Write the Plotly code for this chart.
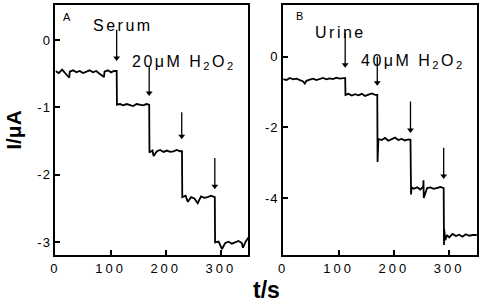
import plotly.graph_objects as go

# ---------------- data ----------------
tA = [0, 6, 12, 18, 25, 26, 32, 38, 44, 50, 56, 62, 68, 74, 80, 88, 89, 95, 101, 106, 111,
      111.5, 117, 123, 129, 135, 141, 147, 153, 159, 165, 170,
      170.5, 176, 178, 184, 190, 196, 202, 208, 214, 220, 226, 229.5,
      230, 236, 240, 246, 252, 258, 264, 270, 276, 282, 289,
      289.5, 296, 302, 308, 314, 320, 326, 332, 338, 340, 345, 350]
IA = [-0.46, -0.49, -0.44, -0.50, -0.56, -0.47, -0.45, -0.48, -0.46, -0.49, -0.47, -0.45, -0.48, -0.46, -0.50, -0.55, -0.47, -0.45, -0.48, -0.46, -0.46,
      -0.96, -0.95, -0.97, -0.95, -0.96, -0.98, -0.95, -0.96, -0.97, -0.95, -0.96,
      -1.67, -1.64, -1.72, -1.65, -1.63, -1.66, -1.64, -1.66, -1.65, -1.63, -1.65, -1.65,
      -2.33, -2.31, -2.40, -2.33, -2.35, -2.42, -2.32, -2.34, -2.33, -2.31, -2.33,
      -3.00, -2.99, -3.10, -3.01, -2.99, -3.02, -3.00, -2.98, -3.01, -3.08, -2.99, -2.93]

tB = [0, 6, 12, 18, 24, 30, 36, 39, 42, 48, 54, 60, 66, 72, 78, 84, 90, 96, 102, 108, 112,
      112.5, 118, 124, 130, 136, 142, 148, 154, 160, 166, 170,
      170.5, 171, 172, 178, 184, 190, 196, 202, 208, 214, 220, 226, 230,
      230.5, 231, 232, 236, 242, 248, 253, 253.5, 254, 260, 266, 272, 278, 284, 290,
      290.5, 291, 293, 296, 300, 306, 312, 318, 324, 330, 336, 342, 350]
IB = [-0.63, -0.66, -0.60, -0.64, -0.62, -0.67, -0.70, -0.76, -0.68, -0.65, -0.62, -0.66, -0.63, -0.60, -0.64, -0.61, -0.63, -0.59, -0.62, -0.60, -0.60,
      -1.08, -1.05, -1.10, -1.06, -1.09, -1.05, -1.11, -1.07, -1.04, -1.08, -1.08,
      -2.98, -2.40, -2.33, -2.36, -2.30, -2.38, -2.34, -2.29, -2.36, -2.33, -2.37, -2.34, -2.35,
      -3.30, -3.90, -3.70, -3.74, -3.70, -3.76, -3.68, -3.50, -4.00, -3.72, -3.70, -3.74, -3.71, -3.69, -3.72,
      -5.33, -4.90, -5.20, -5.05, -5.12, -5.02, -5.08, -5.04, -5.10, -5.03, -5.07, -5.05, -5.05]

arrowsA_t = [111, 170, 229, 289]
arrowsA_top = [0.15, -0.40, -1.07, -1.75]
arrowsA_tip = [-0.37, -0.89, -1.53, -2.27]
arrowsB_t = [112, 170, 230, 290]
arrowsB_top = [0.68, 0.00, -1.27, -2.58]
arrowsB_tip = [-0.42, -0.93, -2.27, -3.57]

xticks = [0, 100, 200, 300]
yticksA = [0, -1, -2, -3]
yticksB = [0, -2, -4]


def spaced(s, px):
    return '<span style="letter-spacing:%spx">%s</span>' % (px, s)


# ---------------- figure ----------------
fig = go.Figure()
line = dict(color="black", width=1.8)
fig.add_trace(go.Scatter(x=tA, y=IA, mode="lines", line=line, xaxis="x", yaxis="y", showlegend=False))
fig.add_trace(go.Scatter(x=tB, y=IB, mode="lines", line=line, xaxis="x2", yaxis="y2", showlegend=False))


def add_arrows(ts, tops, tips, xa, ya, yspan):
    for t, a, b in zip(ts, tops, tips):
        head = 0.055 * yspan  # head length in data units
        fig.add_trace(go.Scatter(x=[t, t], y=[a, b + head * 0.5], mode="lines",
                                 line=dict(color="black", width=1.3),
                                 xaxis=xa, yaxis=ya, showlegend=False, hoverinfo="skip"))
        fig.add_trace(go.Scatter(x=[t], y=[b + head * 0.5], mode="markers",
                                 marker=dict(symbol="triangle-down", size=6, color="black"),
                                 xaxis=xa, yaxis=ya, showlegend=False, hoverinfo="skip"))


add_arrows(arrowsA_t, arrowsA_top, arrowsA_tip, "x", "y", 3.71)
add_arrows(arrowsB_t, arrowsB_top, arrowsB_tip, "x2", "y2", 7.09)

ax_common = dict(showline=True, mirror=True, linecolor="black", linewidth=2,
                 ticks="inside", ticklen=5, tickwidth=2, tickcolor="black",
                 showgrid=False, zeroline=False,
                 tickfont=dict(family="Liberation Sans", size=13, color="black"))
ydom = [0.169, 0.984]
fig.update_layout(
    width=488, height=307, margin=dict(l=0, r=0, t=0, b=0),
    paper_bgcolor="white", plot_bgcolor="white",
    xaxis=dict(domain=[0.1045, 0.504], range=[0, 350], tickvals=xticks,
               ticktext=[spaced(v, 3) for v in xticks], anchor="y", **ax_common),
    yaxis=dict(domain=ydom, range=[-3.19, 0.52], tickvals=yticksA,
               ticktext=[spaced(v, 1) for v in yticksA], anchor="x",
               title=dict(text="<b>I/μA</b>", font=dict(family="Liberation Sans", size=21, color="black"), standoff=10),
               **ax_common),
    xaxis2=dict(domain=[0.576, 0.977], range=[0, 350], tickvals=xticks,
                ticktext=[spaced(v, 3) for v in xticks], anchor="y2", **ax_common),
    yaxis2=dict(domain=ydom, range=[-5.62, 1.47], tickvals=yticksB,
                ticktext=[spaced(v, 1) for v in yticksB], anchor="x2", **ax_common),
)

tf = dict(family="Liberation Sans", size=16, color="black")
ann = [
    dict(x=21.5, y=0.34, xref="x", yref="y", text="A", showarrow=False, font=dict(family="Liberation Sans", size=11, color="black")),
    dict(x=122, y=0.22, xref="x", yref="y", text=spaced("Serum", 2.5), showarrow=False, font=tf),
    dict(x=233, y=-0.33, xref="x", yref="y", text=spaced("20μM H<sub>2</sub>O<sub>2</sub>", 2.5), showarrow=False, font=tf),
    dict(x=30, y=1.16, xref="x2", yref="y2", text="B", showarrow=False, font=dict(family="Liberation Sans", size=11, color="black")),
    dict(x=104, y=0.68, xref="x2", yref="y2", text=spaced("Urine", 2.5), showarrow=False, font=tf),
    dict(x=234, y=-0.14, xref="x2", yref="y2", text=spaced("40μM H<sub>2</sub>O<sub>2</sub>", 2.5), showarrow=False, font=tf),
    dict(x=264 / 488, y=1 - 290 / 307, xref="paper", yref="paper", xanchor="center", yanchor="middle",
         text="<b>t/s</b>", showarrow=False, font=dict(family="Liberation Sans", size=23, color="black")),
]
fig.update_layout(annotations=ann)

fig.write_html("out.html", config={"displayModeBar": False},
               post_script="document.body.style.margin='0';document.body.style.overflow='hidden';")
